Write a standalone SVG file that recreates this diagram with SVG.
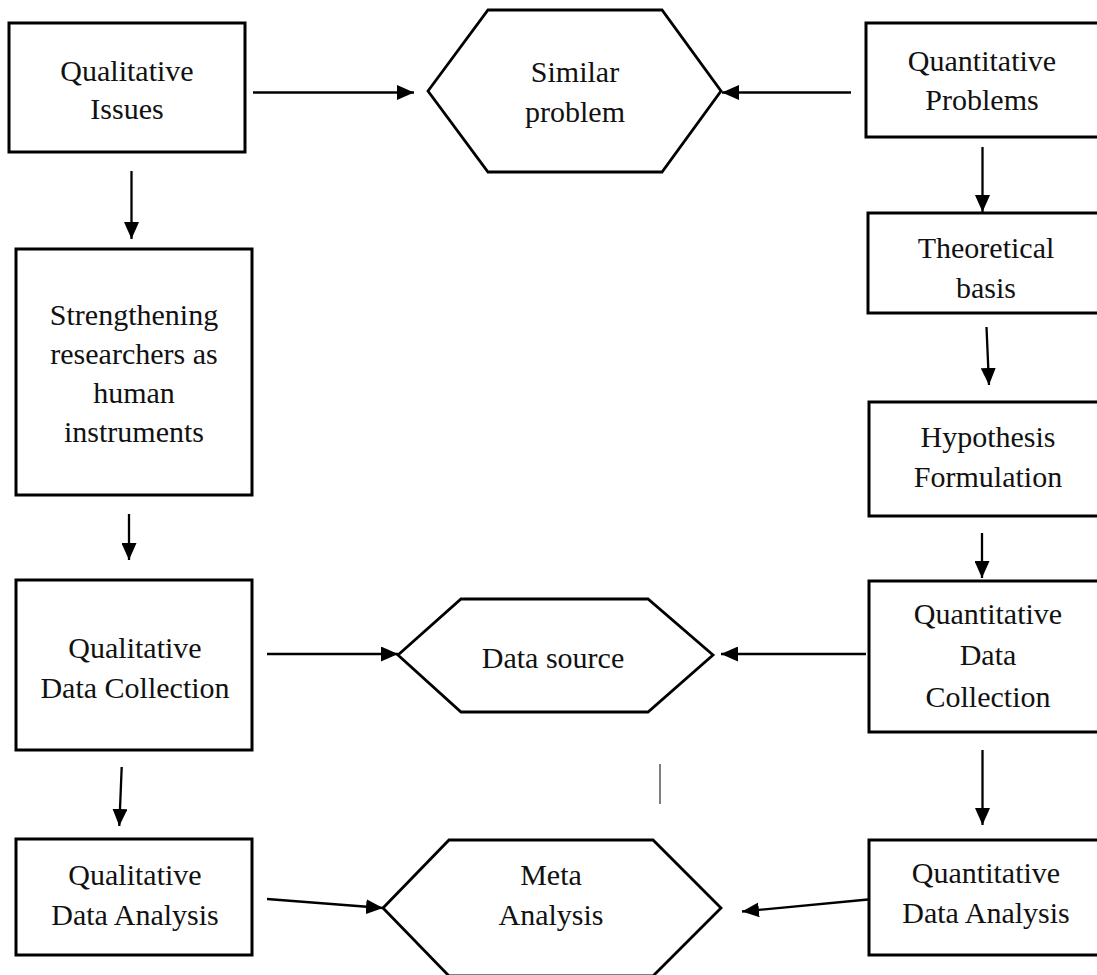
<svg xmlns="http://www.w3.org/2000/svg" width="1097" height="975" viewBox="0 0 1097 975">
<defs>
<style>
.box{fill:#fff;stroke:#000;stroke-width:3}
.hex{fill:#fff;stroke:#000;stroke-width:2.8;stroke-linejoin:miter}
.lbl{font-family:"Liberation Serif","Times New Roman",serif;font-size:30px;fill:#111;text-anchor:middle}
.con{stroke:#000;stroke-width:2.3;fill:none}
.thin{stroke:#555;stroke-width:1.5;fill:none}
</style>
<marker id="ah" viewBox="0 0 17 15" refX="17" refY="7.5" markerWidth="17" markerHeight="15" markerUnits="userSpaceOnUse" orient="auto">
<path d="M0,0 L17,7.5 L0,15 Z" fill="#000"/>
</marker>
</defs>
<rect width="1097" height="975" fill="#fff"/>

<g id="qual-issues">
<rect class="box" x="9" y="23" width="236" height="129"/>
<text class="lbl" x="127" y="81">Qualitative</text>
<text class="lbl" x="127" y="119">Issues</text>
</g>

<g id="similar-problem">
<polygon class="hex" points="428,91 488,10 662,10 721,91 662,172 488,172"/>
<text class="lbl" x="575" y="82">Similar</text>
<text class="lbl" x="575" y="122">problem</text>
</g>

<g id="quant-problems">
<rect class="box" x="866" y="23" width="240" height="114"/>
<text class="lbl" x="982" y="71">Quantitative</text>
<text class="lbl" x="982" y="110">Problems</text>
</g>

<g id="theoretical-basis">
<rect class="box" x="868" y="213" width="240" height="100"/>
<text class="lbl" x="986" y="258">Theoretical</text>
<text class="lbl" x="986" y="298">basis</text>
</g>

<g id="hypothesis">
<rect class="box" x="869" y="402" width="240" height="114"/>
<text class="lbl" x="988" y="447">Hypothesis</text>
<text class="lbl" x="988" y="487">Formulation</text>
</g>

<g id="strengthening">
<rect class="box" x="16" y="249" width="236" height="246"/>
<text class="lbl" x="134" y="325">Strengthening</text>
<text class="lbl" x="134" y="364">researchers as</text>
<text class="lbl" x="134" y="403">human</text>
<text class="lbl" x="134" y="442">instruments</text>
</g>

<g id="qual-data-collection">
<rect class="box" x="16" y="580" width="236" height="170"/>
<text class="lbl" x="135" y="658">Qualitative</text>
<text class="lbl" x="135" y="698">Data Collection</text>
</g>

<g id="data-source">
<polygon class="hex" points="398,655 461,599 648,599 713,655 648,712 461,712"/>
<text class="lbl" x="553" y="668">Data source</text>
</g>

<g id="quant-data-collection">
<rect class="box" x="869" y="581" width="240" height="151"/>
<text class="lbl" x="988" y="624">Quantitative</text>
<text class="lbl" x="988" y="665">Data</text>
<text class="lbl" x="988" y="707">Collection</text>
</g>

<g id="qual-data-analysis">
<rect class="box" x="16" y="839" width="236" height="116"/>
<text class="lbl" x="135" y="885">Qualitative</text>
<text class="lbl" x="135" y="925">Data Analysis</text>
</g>

<g id="meta-analysis">
<polygon class="hex" points="383,908 449,840 653,840 721,908 653,976 449,976"/>
<text class="lbl" x="551" y="885">Meta</text>
<text class="lbl" x="551" y="925">Analysis</text>
</g>

<g id="quant-data-analysis">
<rect class="box" x="869" y="840" width="240" height="115"/>
<text class="lbl" x="986" y="883">Quantitative</text>
<text class="lbl" x="986" y="923">Data Analysis</text>
</g>

<g id="connectors">
<line class="con" x1="253" y1="92.5" x2="414" y2="92.5" marker-end="url(#ah)"/>
<line class="con" x1="851" y1="92.5" x2="722" y2="92.5" marker-end="url(#ah)"/>
<line class="con" x1="131.5" y1="171" x2="131.5" y2="239" marker-end="url(#ah)"/>
<line class="con" x1="982.5" y1="147" x2="982.5" y2="212" marker-end="url(#ah)"/>
<line class="con" x1="986.5" y1="327" x2="989" y2="385" marker-end="url(#ah)"/>
<line class="con" x1="982" y1="533" x2="982" y2="578" marker-end="url(#ah)"/>
<line class="con" x1="129" y1="514" x2="129" y2="560" marker-end="url(#ah)"/>
<line class="con" x1="267" y1="654" x2="398" y2="654" marker-end="url(#ah)"/>
<line class="con" x1="866" y1="654" x2="721" y2="654" marker-end="url(#ah)"/>
<line class="con" x1="121.7" y1="767" x2="119.3" y2="826" marker-end="url(#ah)"/>
<line class="con" x1="982.5" y1="750" x2="982.5" y2="825" marker-end="url(#ah)"/>
<line class="con" x1="267" y1="899" x2="383" y2="908" marker-end="url(#ah)"/>
<line class="con" x1="868" y1="899.5" x2="742" y2="911.5" marker-end="url(#ah)"/>
<line class="thin" x1="660" y1="764" x2="660" y2="804"/>
</g>
</svg>
